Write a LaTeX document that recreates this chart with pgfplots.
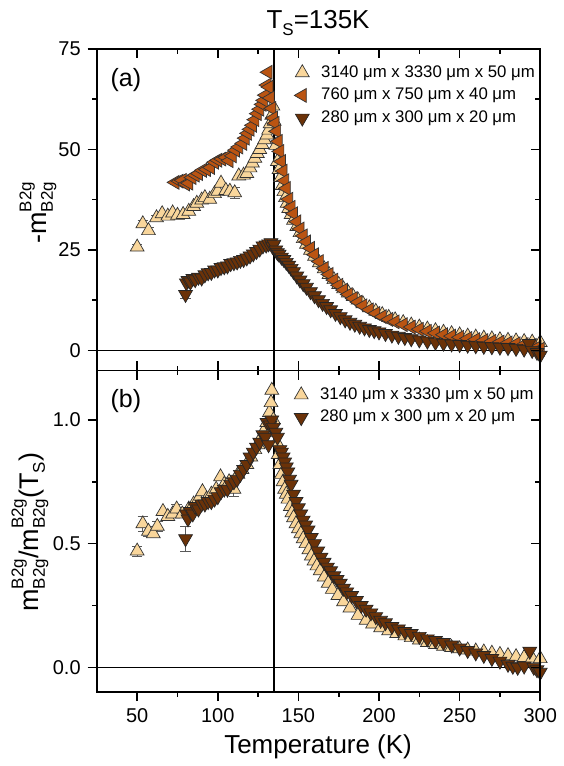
\documentclass[border=0pt]{standalone}
\usepackage{fontspec}
\setmainfont{Liberation Sans}
\usepackage{pgfplots}
\pgfplotsset{compat=1.18}

\definecolor{ctan}{RGB}{249,214,155}
\definecolor{corg}{RGB}{186,84,18}
\definecolor{cdrk}{RGB}{107,50,8}

% stacked super/subscript
\newcommand{\sst}[2]{\makebox[0pt][l]{\raisebox{0.55em}{\fontsize{8.5}{8.5}\selectfont #1}}\raisebox{-0.25em}{\fontsize{8.5}{8.5}\selectfont #2}}
\newcommand{\subS}{\raisebox{-0.25em}{\fontsize{8.5}{8.5}\selectfont S}}

\pgfplotsset{
  panel/.style={scale only axis, width=222pt, height=161pt, xmin=25, xmax=300,
    axis line style={line width=0.9pt}, tick style={line width=0.8pt, black},
    major tick length=4.6pt, minor tick length=2.4pt,
    tick label style={font=\fontsize{10}{12}\selectfont},
    /pgf/number format/assume math mode=true},
  leg/.style={draw=none, fill=none, font=\fontsize{8.4}{10}\selectfont, row sep=0pt,
    /tikz/every odd column/.append style={column sep=4pt}},
  tanS/.style={only marks, mark=triangle*, mark size=4pt,
    mark options={fill=ctan, draw=black!80, line width=0.35pt}},
  orgS/.style={only marks, mark=triangle*, mark size=4pt,
    mark options={rotate=90, fill=corg, draw=black!80, line width=0.35pt}},
  drkS/.style={only marks, mark=triangle*, mark size=4pt,
    mark options={rotate=180, fill=cdrk, draw=black!85, line width=0.35pt}},
  errS/.style={draw=none, mark=none, forget plot,
    error bars/.cd, y dir=both, y explicit,
    error bar style={draw=black!65, line width=0.5pt},
    error mark options={draw=black!65, rotate=90, mark size=2.6pt, line width=0.5pt}},
}

\begin{document}
\begin{tikzpicture}

% ---------------- panel (a)
\begin{axis}[panel, at={(0,161pt)}, anchor=south west,
    ymin=-5, ymax=75, ytick={0,25,50,75}, minor y tick num=1,
    ytick pos=left, tick align=outside, xtick=\empty,
    legend cell align=left,
    legend style={leg, at={(axis cs:143.5,73)}, anchor=north west}]

\addplot[errS] coordinates {
 (50,25.7) +- (0,0.7) (53.5,31.5) +- (0,0.8) (57,29.8) +- (0,0.8)
 (62,33.0) +- (0,0.6) (110.5,39.2) +- (0,1.4) (80,13.9) +- (0,1.0)
};

\addplot[tanS] coordinates {
 (50,25.7) (53.5,31.5) (57,29.8) (62,33.0) (65.5,34.0) (69,33.4) (72,34.2)
 (75,33.6) (78.5,33.8) (82,34.6) (85,35.8) (87,36.6) (90,37.4) (92,38.0)
 (95,37.6) (98,39.0) (100,39.6) (102,41.6) (105,39.8) (107.5,39.6) (110.5,39.2)
 (113,43.4) (116,43.6) (118,44.0) (120,45.4) (121.5,46.6) (123,47.8) (124.5,49.0)
 (126,50.0) (127.5,51.2) (129,52.4) (130.5,53.6) (131.5,54.8) (132.5,56.4)
 (133.5,58.5) (134.2,60.8) (135,57) (136,51) (137,47) (138,45) (139,43) (140,41)
 (141,39.5) (142,38) (143,36.6) (144,35.3) (145.5,33.8) (147,32.4) (149,30.8)
 (151,29.3) (153,27.8) (155,26.4) (157.5,24.9) (160,23.4) (163,21.8) (166,20.3)
 (169,18.9) (172,17.6) (175,16.4) (178,15.3) (181,14.3) (184,13.4) (187,12.5)
 (190,11.6) (194,10.6) (198,9.7) (202,8.9) (206,8.2) (210,7.6) (215,6.9)
 (220,6.3) (225,5.8) (230,5.3) (235,4.9) (240,4.5) (245,4.15) (250,3.85)
 (255,3.55) (260,3.3) (265,3.05) (270,2.85) (275,2.65) (280,2.5) (285,2.35)
 (290,2.2) (295,2.05) (300,1.95)
};
\addlegendentry{3140 μm x 3330 μm x 50 μm}

\addplot[orgS] coordinates {
 (73.5,41.8) (76,42.1) (78,42.3) (80,41.4) (82,41.6) (84,43.0) (86,43.6)
 (88,44.0) (90.5,44.8) (93,45.0) (95.5,45.5) (98,46.8) (100,47.3) (102.5,47.6)
 (105,48.0) (107,47.2) (109,48.4) (111,49.8) (113,50.6) (115.5,51.5) (117,52.8)
 (118.5,54.0) (120,55.0) (121.5,56.0) (123,57.4) (124.5,58.9) (126,60.0)
 (127.5,61.2) (128.5,62.2) (129.5,63.5) (130.5,66.0) (131.2,69.2) (131.8,65.5)
 (132.5,62.8) (133.5,60.2) (134.5,57.8) (135.5,56.5) (136.5,54.5) (137.5,52)
 (138.5,49.5) (139.5,47) (140.5,44.6) (141.5,42.2) (142.5,40.3) (144,37.6)
 (145.5,35.6) (147,34) (149,32) (151,30.2) (153,28.5) (155,27) (157.5,25.4)
 (160,23.8) (163,22.1) (166,20.4) (169,18.9) (172,17.5) (175,16.2) (178,15.0)
 (181,13.9) (184,12.9) (187,12.0) (190,11.1) (194,10.1) (198,9.2) (202,8.4)
 (206,7.7) (210,7.1) (215,6.4) (220,5.8) (225,5.25) (230,4.75) (235,4.3)
 (240,3.9) (245,3.55) (250,3.25) (255,2.95) (260,2.7) (265,2.45) (270,2.25)
 (275,2.05) (280,1.85) (285,1.65) (290,1.45) (295,1.25) (298,0.7) (300,0.3)
};
\addlegendentry{760 μm x 750 μm x 40 μm}

\addplot[drkS] coordinates {
 (80,13.9) (80.5,16.8) (81.5,17.4) (83,17.0) (84.5,17.9) (86,17.6) (88,18.2)
 (90,18.0) (92,18.8) (94,19.3) (96,19.4) (98,20.0) (100,20.0) (102,20.6)
 (104,20.8) (106,21.0) (108,21.6) (110,21.8) (112,22.0) (114,22.4) (116,22.6)
 (118,23.0) (120,23.5) (122,24.0) (124,24.6) (126,25.2) (128,26.0) (130,26.2)
 (131.5,26.5) (133,26.8) (134,25.8) (134.8,26.4) (136,25.0) (137,24.3)
 (138,23.9) (139.5,23.2) (141,22.6) (142.5,21.9) (144,21.2) (145.5,20.4)
 (147,19.6) (149,18.5) (151,17.5) (153,16.6) (155,15.7) (157.5,14.6)
 (160,13.6) (162.5,12.6) (165,11.7) (167.5,10.9) (170,10.1) (173,9.2)
 (176,8.4) (179,7.6) (182,7.0) (185,6.5) (188,6.0) (191,5.6) (194,5.2)
 (197,4.9) (200,4.6) (204,4.2) (208,3.8) (212,3.5) (216,3.2) (220,2.9)
 (225,2.6) (230,2.3) (235,2.0) (240,1.8) (245,1.6) (250,1.45) (255,1.3)
 (260,1.15) (265,1.0) (270,0.9) (275,0.8) (280,0.7) (285,0.5) (290,0.3)
 (293,1.7) (295,0.0) (298,-0.5) (300,-1.2)
};
\addlegendentry{280 μm x 300 μm x 20 μm}

\draw[line width=0.85pt] (axis cs:135,-5) -- (axis cs:135,75);
\draw[line width=0.8pt] (axis cs:25,0) -- (axis cs:300,0);
\node[font=\fontsize{12.5}{14}\selectfont] at (axis cs:43,67.3) {(a)};
\end{axis}

\begin{axis}[panel, at={(0,161pt)}, anchor=south west,
    ymin=-5, ymax=75, ytick={0,25,50,75}, minor y tick num=1, yticklabels={},
    xtick={50,100,...,300}, minor x tick num=1, xticklabels={},
    tick align=inside, xtick pos=both, ytick pos=right]
\end{axis}

% ---------------- panel (b)
\begin{axis}[panel, at={(0,0)}, anchor=south west,
    ymin=-0.1, ymax=1.2, ytick={0,0.5,1}, minor y tick num=1,
    yticklabel style={/pgf/number format/.cd, fixed, fixed zerofill, precision=1},
    xtick={50,100,...,300}, minor x tick num=1,
    tick align=outside, xtick pos=left, ytick pos=left,
    legend cell align=left,
    legend style={leg, at={(axis cs:143.5,1.165)}, anchor=north west}]

\addplot[errS] coordinates {
 (50,0.47) +- (0,0.02) (53.5,0.58) +- (0,0.03) (57,0.55) +- (0,0.02)
 (62.5,0.57) +- (0,0.02) (74.5,0.64) +- (0,0.02) (110,0.72) +- (0,0.03)
 (80,0.52) +- (0,0.05)
};

\addplot[tanS] coordinates {
 (50,0.47) (53.5,0.58) (57,0.55) (60,0.54) (62.5,0.57) (66,0.63) (69,0.61)
 (72,0.62) (74.5,0.64) (78,0.62) (82,0.64) (85,0.66) (88,0.68) (90.5,0.71)
 (93,0.68) (96,0.70) (99,0.72) (101.7,0.77) (104,0.74) (107,0.75) (110,0.72)
 (112.5,0.78) (115,0.80) (118,0.82) (120.5,0.85) (123,0.88) (125,0.90)
 (127,0.93) (129,0.96) (130.5,0.99) (132,1.03) (133,1.07) (133.5,1.12)
 (134.5,1.0) (135.5,0.95) (136.5,0.91) (137.5,0.86) (138.5,0.82) (139.5,0.78)
 (140.5,0.75) (141.5,0.72) (142.5,0.70) (143.5,0.68) (145,0.65) (146,0.625)
 (147,0.605) (148.5,0.58) (150,0.56) (151.5,0.54) (153,0.52) (154.7,0.50)
 (156.5,0.475) (158,0.45) (159.7,0.43) (161.5,0.41) (163.5,0.39) (166,0.365)
 (168.5,0.34) (171,0.315) (174.5,0.29) (178,0.265) (182,0.24) (187,0.21)
 (192,0.19) (196,0.175) (201,0.16) (206,0.148) (211,0.137) (216,0.127)
 (220,0.12) (225,0.11) (230,0.10) (235,0.092) (240,0.085) (245,0.08)
 (250,0.075) (255,0.07) (260,0.066) (265,0.062) (270,0.057) (275,0.052)
 (280,0.047) (285,0.043) (290,0.04) (295,0.037) (300,0.035)
};
\addlegendentry{3140 μm x 3330 μm x 50 μm}

\addplot[drkS] coordinates {
 (80,0.52) (80.5,0.62) (81.5,0.60) (83,0.63) (84.5,0.62) (86,0.65) (88,0.64)
 (90,0.66) (92,0.66) (94,0.67) (96,0.67) (98,0.68) (100,0.69) (102,0.71)
 (104,0.72) (106,0.72) (108,0.74) (110,0.75) (112,0.76) (114,0.78) (116,0.80)
 (118,0.82) (120,0.85) (122,0.87) (124,0.89) (126,0.91) (128,0.94) (129.5,0.93)
 (130.5,0.99) (131.5,0.90) (132.5,0.98) (133.5,1.0) (134.5,0.97) (136,0.95)
 (137,0.93) (138.5,0.88) (139.5,0.87) (140.5,0.85) (141.5,0.83) (142.5,0.81)
 (143.5,0.79) (144.5,0.76) (145.5,0.74) (147,0.70) (148.5,0.67) (150,0.645)
 (151.5,0.62) (153,0.595) (154.5,0.575) (156,0.555) (158,0.525) (160,0.50)
 (162,0.47) (164,0.445) (166,0.425) (168,0.405) (170,0.39) (172,0.37)
 (174,0.355) (176,0.34) (178,0.32) (180,0.305) (183,0.29) (186,0.27)
 (189,0.25) (192,0.235) (195,0.22) (198,0.205) (201,0.19) (204,0.18)
 (208,0.165) (212,0.155) (216,0.145) (220,0.137) (225,0.125) (230,0.115)
 (235,0.108) (240,0.10) (245,0.09) (250,0.078) (255,0.068) (260,0.058)
 (265,0.048) (270,0.036) (275,0.025) (280,0.012) (283,0.004) (286,0.0)
 (290,0.005) (293.5,0.065) (296,0.0) (298,-0.01) (300,-0.02)
};
\addlegendentry{280 μm x 300 μm x 20 μm}

\draw[line width=0.85pt] (axis cs:135,-0.1) -- (axis cs:135,1.2);
\draw[line width=0.8pt] (axis cs:25,0) -- (axis cs:300,0);
\node[font=\fontsize{12.5}{14}\selectfont] at (axis cs:43,1.075) {(b)};
\end{axis}

\begin{axis}[panel, at={(0,0)}, anchor=south west,
    ymin=-0.1, ymax=1.2, ytick={0,0.5,1}, minor y tick num=1, yticklabels={},
    xtick={50,100,...,300}, minor x tick num=1, xticklabels={},
    tick align=inside, xtick pos=right, ytick pos=right]
\end{axis}

% ---------------- titles and labels
\node[anchor=base, font=\fontsize{13}{15}\selectfont] at (110.75pt,332pt) {T\subS=135K};
\node[anchor=base, font=\fontsize{13}{15}\selectfont] at (110.75pt,-31pt) {Temperature (K)};
\node[rotate=90, font=\fontsize{13.5}{15}\selectfont] at (-29.5pt,240pt) {-m\sst{B2g}{B2g}};
\node[rotate=90, font=\fontsize{13.5}{15}\selectfont] at (-33.5pt,80pt) {m\sst{B2g}{B2g}/m\sst{B2g}{B2g}(T\subS)};
\path (-48.5pt,-36.5pt) rectangle (230pt,346.5pt);

\end{tikzpicture}
\end{document}
